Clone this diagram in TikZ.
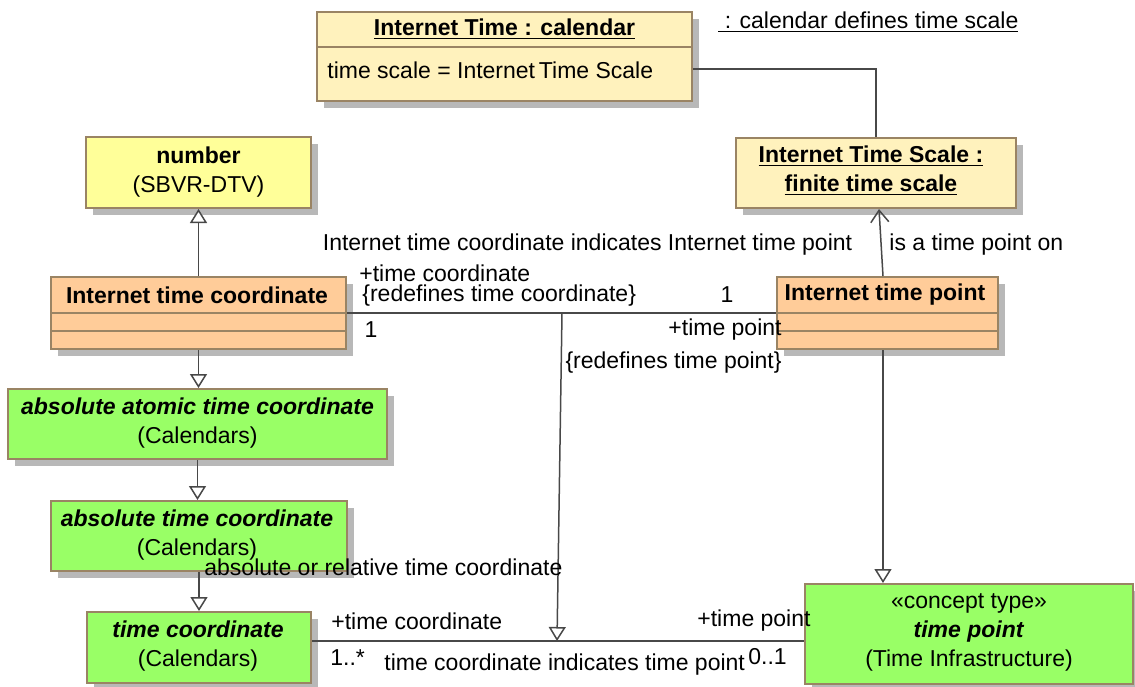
\documentclass[tikz,border=0pt]{standalone}
\usepackage{fontspec}
\setmainfont{Liberation Sans}
\usetikzlibrary{arrows.meta,shadows,calc}
\definecolor{cream}{HTML}{FFF2BD}
\definecolor{lemon}{HTML}{FFFF99}
\definecolor{peach}{HTML}{FFCC99}
\definecolor{lime}{HTML}{99FF66}
\definecolor{boxedge}{HTML}{9A8464}
\definecolor{shadowgray}{HTML}{B8B8B8}
\definecolor{linegray}{HTML}{484848}
\begin{document}
\begin{tikzpicture}[x=0.5pt,y=-0.5pt,
  font=\fontsize{11.5}{14.5}\selectfont,
  box/.style={draw=boxedge, line width=1pt, inner sep=0pt,
    drop shadow={shadow xshift=3.5pt, shadow yshift=-3.5pt, fill=shadowgray, opacity=1}},
  divider/.style={draw=boxedge, line width=1pt},
  txt/.style={inner sep=0pt, align=center},
  conn/.style={draw=linegray, line width=0.75pt},
  gen/.style={conn, -{Triangle[open, length=7pt, width=8.5pt, fill=white]}},
  nav/.style={conn, -{Straight Barb[length=6pt, width=9pt]}}]
\useasboundingbox (0,0) rectangle (1135,686);

% ---------- boxes ----------
\node[box, fill=cream, minimum width=187.5pt, minimum height=44.5pt] (cal) at (504.5,56.5) {};
\draw[divider] (cal.west |- 0,47) -- (cal.east |- 0,47);
\node[txt] (caltitle) at (504.5,29.5) {\textbf{\underline{Internet Time : calendar}}};
\node[txt, anchor=west] (calattr) at (327,70) {time scale = Internet\,Time Scale};

\node[txt, anchor=west] (calnote) at (718,22) {\underline{\ : calendar defines time scale}};

\node[box, fill=cream, minimum width=140pt, minimum height=35pt] (scale) at (876,173) {};
\node[txt] (scaletitle) at (871,171) {\textbf{\underline{Internet Time Scale :}}\\\textbf{\underline{finite time scale}}};

\node[box, fill=lemon, minimum width=112.5pt, minimum height=35.5pt] (number) at (198.5,172.5) {};
\node[txt] (numbertitle) at (198.5,172) {\textbf{number}\\(SBVR-DTV)};

\node[box, fill=peach, minimum width=147.5pt, minimum height=36pt] (itc) at (198.5,313) {};
\draw[divider] (itc.west |- 0,313) -- (itc.east |- 0,313);
\draw[divider] (itc.west |- 0,331) -- (itc.east |- 0,331);
\node[txt] (itctitle) at (197,295) {\textbf{Internet time coordinate}};

\node[box, fill=peach, minimum width=110.5pt, minimum height=36pt] (itp) at (887.5,313) {};
\draw[divider] (itp.west |- 0,313) -- (itp.east |- 0,313);
\draw[divider] (itp.west |- 0,331) -- (itp.east |- 0,331);
\node[txt] (itptitle) at (885,295) {\textbf{Internet time point}};

\node[box, fill=lime, minimum width=189.5pt, minimum height=35pt] (aatc) at (197.5,424) {};
\node[txt] (aatctitle) at (197.5,423) {\textbf{\textit{absolute atomic time coordinate}}\\(Calendars)};

\node[box, fill=lime, minimum width=148pt, minimum height=35pt] (atc) at (199,536) {};
\node[txt] (atctitle) at (197,535) {\textbf{\textit{absolute time coordinate}}\\(Calendars)};

\node[box, fill=lime, minimum width=112pt, minimum height=35.5pt] (tc) at (199,647.5) {};
\node[txt] (tctitle) at (198,646) {\textbf{\textit{time coordinate}}\\(Calendars)};

\node[box, fill=lime, minimum width=164pt, minimum height=50pt] (tp) at (969,634) {};
\node[txt] (tptitle) at (969,632) {«concept type»\\\textbf{\textit{time point}}\\(Time Infrastructure)};

% ---------- connectors ----------
\draw[conn] ($(cal.east)+(0,12.5)$) -| (scale.north);

\draw[gen] (itc.north) -- (itc.north |- number.south);
\draw[gen] (itc.south) -- (itc.south |- aatc.north);
\draw[gen] (aatc.south) -- (aatc.south |- atc.north);
\draw[gen] (atc.south) -- (atc.south |- tc.north);

\draw[nav] ($(itp.north)+(-4.5,0)$) -- ($(scale.south)+(3,0)$);
\coordinate (itpb) at ($(itp.south)+(-4.5,0)$);
\draw[gen] (itpb) -- (itpb |- tp.north);

\coordinate (m1) at (562,313);
\coordinate (m2) at (557,641);
\draw[conn] (itc.east) -- (itp.west);
\draw[conn] (tc.east |- m2) -- (tp.west |- m2);
\draw[gen] (m1) -- (m2);

% ---------- connector labels ----------
\node[txt] (l1) at (587.5,245) {Internet time coordinate indicates Internet time point};
\node[txt, anchor=west] (l2) at (889,245) {is a time point on};
\node[txt, anchor=west] (l3) at (359,273) {+time coordinate};
\node[txt, anchor=west] (l4) at (362,296) {\{redefines time coordinate\}};
\node[txt] (l5) at (727,295) {1};
\node[txt] (l6) at (371,330) {1};
\node[txt, anchor=east] (l7) at (782,330) {+time point};
\node[txt, anchor=east] (l8) at (782,363) {\{redefines time point\}};
\node[txt, anchor=west] (l9) at (204,567) {absolute or relative time coordinate};
\node[txt, anchor=west] (l10) at (331,621) {+time coordinate};
\node[txt, anchor=west] (l11) at (330,658) {1..*};
\node[txt, anchor=west] (l12) at (384,665) {time coordinate indicates time point};
\node[txt, anchor=west] (l13) at (748,657) {0..1};
\node[txt, anchor=west] (l14) at (697,621) {+time point};
\end{tikzpicture}
\end{document}
